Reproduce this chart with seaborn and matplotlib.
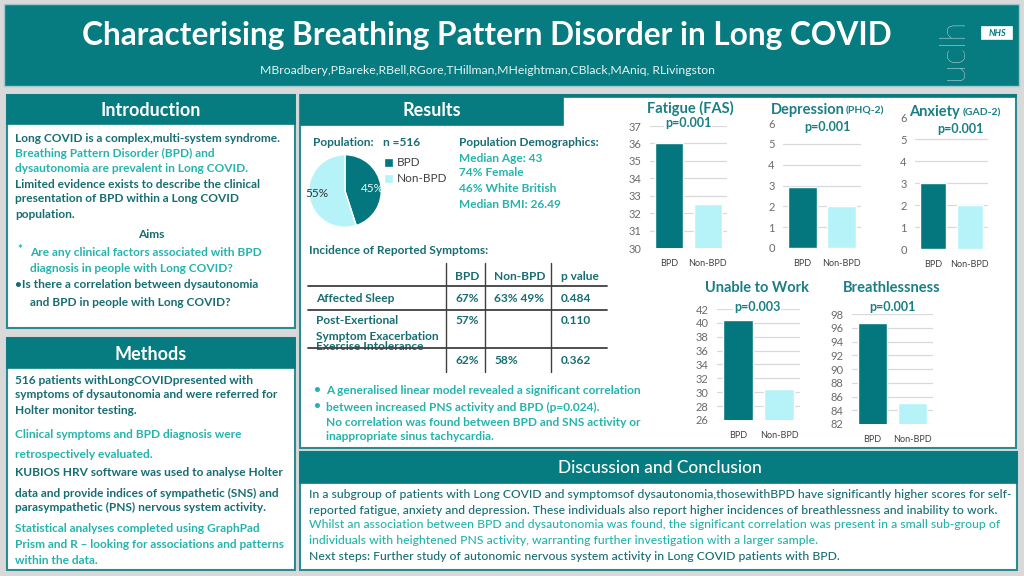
import numpy as np
import matplotlib
matplotlib.use("Agg")
import matplotlib.pyplot as plt
import seaborn as sns
from matplotlib.patches import Rectangle

# ---- data ----
groups = ["BPD", "Non-BPD"]
fatigue = [36.0, 32.5]
depression = [2.95, 2.0]
anxiety = [3.0, 2.0]
unable_work = [40.4, 30.5]
breathless = [96.7, 85.1]
pie_share = [45, 55]

table_cols = ["BPD", "Non-BPD", "p value"]
table_rows = ["Affected Sleep", "Post-Exertional\nSymptom Exacerbation", ""]
table_bpd = ["67%", "57%", "62%"]
table_non = ["63% 49%", "", "58%"]
table_p = ["0.484", "0.110", "0.362"]

TEAL = "#067b80"
DARK = "#176d72"
LIGHT = "#25b3ad"
BAR_D = "#03777d"
BAR_L = "#b5f3f8"
FONT = "Lato"
BODY = 8.6

W, H = 1024, 576
sns.set_style("white")
plt.rcParams["font.family"] = [FONT, "DejaVu Sans"]

fig = plt.figure(figsize=(W / 100, H / 100), dpi=100, facecolor="#d9d9d9")
bg = fig.add_axes([0, 0, 1, 1])
bg.set_xlim(0, W)
bg.set_ylim(H, 0)
bg.axis("off")


def box(x0, y0, x1, y1, fc, ec=None, lw=1.2, z=1):
    bg.add_patch(Rectangle((x0, y0), x1 - x0, y1 - y0, facecolor=fc,
                           edgecolor=ec if ec else fc, lw=lw, zorder=z))


def txt(x, y, s, color=DARK, size=BODY, weight="bold", ha="left", **kw):
    bg.text(x, y, s, color=color, fontsize=size, fontweight=weight, ha=ha,
            va="center", zorder=5, **kw)


def px_axes(x0, y0, x1, y1):
    return fig.add_axes([x0 / W, 1 - y1 / H, (x1 - x0) / W, (y1 - y0) / H])


# ---- header ----
box(4, 4, 1019, 86, TEAL, ec="#9fc9cc", lw=1)
txt(487, 36, "Characterising Breathing Pattern Disorder in Long COVID",
    color="white", size=22.8, ha="center")
txt(487, 70, "MBroadbery,PBareke,RBell,RGore,THillman,MHeightman,CBlack,MAniq, RLivingston",
    color="#e6f4f4", size=8.8, weight="normal", ha="center")
bg.text(953, 49, "uclh", color="white", fontsize=25, rotation=90, ha="center",
        va="center", fontweight="light", zorder=5)
box(982, 27, 1012, 39, "white", z=4)
txt(997, 33, "NHS", color=TEAL, size=6.5, ha="center", style="italic")

# ---- panels ----
for (x0, y0, x1, y1, hy, title) in [(7, 95, 295, 328, 124, "Introduction"),
                                    (7, 338, 295, 570, 368, "Methods")]:
    box(x0, y0, x1, y1, "white", ec="#2a8c91", lw=1.5)
    box(x0, y0, x1, hy, TEAL, z=2)
    txt((x0 + x1) / 2, (y0 + hy) / 2 + 1, title, color="white", size=13, ha="center")

box(300, 95, 1016, 448, "white", ec="#2a8c91", lw=1.5)
box(301, 95, 563, 125, TEAL, z=2)
box(563, 95, 1016, 97, TEAL, z=2)
txt(432, 111, "Results", color="white", size=13, ha="center")

box(300, 452, 1017, 570, "white", ec="#2a8c91", lw=1.5)
box(300, 452, 1017, 483, TEAL, z=2)
txt(660, 468, "Discussion and Conclusion", color="white", size=12.5,
    weight="medium", ha="center")

# ---- introduction ----
intro = [(138, "Long COVID is a complex,multi-system syndrome.", DARK, 15),
         (153, "Breathing Pattern Disorder (BPD) and", LIGHT, 15),
         (168, "dysautonomia are prevalent in Long COVID.", LIGHT, 15),
         (184, "Limited evidence exists to describe the clinical", DARK, 15),
         (199, "presentation of BPD within a Long COVID", DARK, 15),
         (214, "population.", DARK, 15),
         (252, "Are any clinical factors associated with BPD", LIGHT, 30),
         (268, "diagnosis in people with Long COVID?", LIGHT, 30),
         (285, "\u2022Is there a correlation between dysautonomia", DARK, 15),
         (302, "and BPD in people with Long COVID?", DARK, 30)]
for y, s, c, x in intro:
    txt(x, y, s, color=c)
txt(151, 235, "Aims", color=DARK, ha="center")
txt(17, 250, "*", color=LIGHT)

# ---- methods ----
methods = [(380, "516 patients withLongCOVIDpresented with", DARK),
           (395, "symptoms of dysautonomia and were referred for", DARK),
           (410, "Holter monitor testing.", DARK),
           (434, "Clinical symptoms and BPD diagnosis were", LIGHT),
           (454, "retrospectively evaluated.", LIGHT),
           (473, "KUBIOS HRV software was used to analyse Holter", DARK),
           (493, "data and provide indices of sympathetic (SNS) and", DARK),
           (507, "parasympathetic (PNS) nervous system activity.", DARK),
           (529, "Statistical analyses completed using GraphPad", LIGHT),
           (545, "Prism and R \u2013 looking for associations and patterns", LIGHT),
           (560, "within the data.", LIGHT)]
for y, s, c in methods:
    txt(15, y, s, color=c)

# ---- results: population ----
txt(313, 142, "Population:", color=DARK)
txt(383, 142, "n =516", color=DARK)
txt(459, 142, "Population Demographics:", color=DARK)
for y, s in [(158, "Median Age: 43"), (173, "74% Female"),
             (188, "46% White British"), (204, "Median BMI: 26.49")]:
    txt(459, y, s, color=LIGHT)

pax = px_axes(308, 154, 382, 228)
wedges, texts = pax.pie(pie_share, colors=[BAR_D, BAR_L], startangle=90,
                        counterclock=False, wedgeprops=dict(edgecolor="white", lw=1),
                        labels=["%d%%" % v for v in pie_share], labeldistance=0.45,
                        textprops=dict(fontsize=8.5, family=FONT))
texts[0].set_color("#e8f8f8")
texts[1].set_color("#333333")
pax.set_xlim(-1.02, 1.02)
pax.set_ylim(-1.02, 1.02)
pax.set_aspect("equal")

for y, lab, c in [(163, "BPD", BAR_D), (179, "Non-BPD", BAR_L)]:
    box(386, y - 3, 392, y + 3, c, z=4)
    txt(397, y, lab, color="#404040", size=8.5, weight="normal")

# ---- results: table ----
txt(309, 251, "Incidence of Reported Symptoms:", color=DARK)
for x, s in zip([455, 494, 561], table_cols):
    txt(x, 276, s, color=DARK)
row_y = [298, 321, 360]
for i, y in enumerate(row_y):
    if table_rows[i]:
        lines = table_rows[i].split("\n")
        for j, ln in enumerate(lines):
            txt(316, y + 16 * j, ln, color=DARK)
    txt(455, y, table_bpd[i], color=DARK)
    txt(494, y, table_non[i], color=DARK)
    txt(561, y, table_p[i], color=DARK)
txt(316, 347, "Exercise Intolerance", color=DARK)
for x in [446, 485, 551]:
    bg.plot([x, x], [263, 372], color="#404040", lw=1, zorder=6)
for y in [286, 310, 348]:
    bg.plot([308, 607], [y, y], color="#404040", lw=1.3, zorder=6)

# ---- results: bullets ----
txt(313, 390, "\u2022", color=LIGHT)
txt(313, 406, "\u2022", color=LIGHT)
for y, s in [(391, "A generalised linear model revealed a significant correlation"),
             (407, "between increased PNS activity and BPD (p=0.024)."),
             (422, "No correlation was found between BPD and SNS activity or"),
             (437, "inappropriate sinus tachycardia.")]:
    txt(326, y, s, color=LIGHT)

# ---- results: bar charts ----
charts = [
    (fatigue, (650, 126, 727, 248), (30, 37), np.arange(30, 38), False,
     "Fatigue (FAS)", None, (690, 108), "p=0.001", (688, 123)),
    (depression, (783, 123, 861, 248), (0, 6), np.arange(0, 7), True,
     "Depression", "(PHQ-2)", (808, 110), "p=0.001", (827, 127)),
    (anxiety, (915, 117, 988, 249), (0, 6), np.arange(0, 7), True,
     "Anxiety", "(GAD-2)", (934, 112), "p=0.001", (960, 129)),
    (unable_work, (717, 309, 800, 420), (26, 42), np.arange(26, 43, 2), False,
     "Unable to Work", None, (757, 288), "p=0.003", (757, 307)),
    (breathless, (852, 314, 933, 424), (82, 98), np.arange(82, 99, 2), False,
     "Breathlessness", None, (892, 288), "p=0.001", (892, 307)),
]
for vals, (x0, y0, x1, y1), lim, ticks, hide_top, title, sub, tpos, ptxt, ppos in charts:
    ax = px_axes(x0, y0, x1, y1)
    sns.barplot(x=groups, y=vals, hue=groups, palette=[BAR_D, BAR_L],
                saturation=1, width=0.72, legend=False, ax=ax, zorder=3)
    ax.set_ylim(*lim)
    ax.set_yticks(ticks)
    ax.set_facecolor("none")
    ax.grid(axis="y", color="#d9d9d9", lw=0.9, zorder=0)
    if hide_top:
        ax.get_ygridlines()[-1].set_visible(False)
    ax.set_axisbelow(True)
    for sp in ax.spines.values():
        sp.set_visible(False)
    ax.tick_params(length=0, pad=6)
    ax.tick_params(axis="y", labelsize=8, labelcolor="#6b6b6b")
    ax.tick_params(axis="x", labelsize=6.5, labelcolor="#404040", pad=8)
    ax.set_xlabel("")
    ax.set_ylabel("")
    if sub:
        bg.text(tpos[0], tpos[1], title, color="#1a7f84", fontsize=10.5,
                fontweight="bold", ha="center", va="center", zorder=5)
        off = {"Depression": 38, "Anxiety": 29}[title]
        bg.text(tpos[0] + off, tpos[1] + 1, sub, color="#1a7f84", fontsize=7.5,
                fontweight="bold", ha="left", va="center", zorder=5)
    else:
        txt(tpos[0], tpos[1], title, color="#1a7f84", size=10.5, ha="center")
    # p-value label drawn at figure level so it sits above the chart gridlines
    fig.text(ppos[0], ppos[1], ptxt, color="#1a7f84", fontsize=9, fontweight="bold",
             ha="center", va="center", zorder=8, transform=bg.transData,
             bbox=dict(facecolor="white", edgecolor="none", pad=0.5))

# ---- discussion ----
disc = [(494, "In a subgroup of patients with Long COVID and symptomsof dysautonomia,thosewithBPD have significantly higher scores for self-", DARK),
        (510, "reported fatigue, anxiety and depression. These individuals also report higher incidences of breathlessness and inability to work.", DARK),
        (525, "Whilst an association between BPD and dysautonomia was found, the significant correlation was present in a small sub-group of", LIGHT),
        (540, "individuals with heightened PNS activity, warranting further investigation with a larger sample.", LIGHT),
        (556, "Next steps: Further study of autonomic nervous system activity in Long COVID patients with BPD.", DARK)]
for y, s, c in disc:
    txt(309, y, s, color=c, size=8.7, weight="medium")

fig.savefig("out.png", dpi=100, facecolor=fig.get_facecolor())
